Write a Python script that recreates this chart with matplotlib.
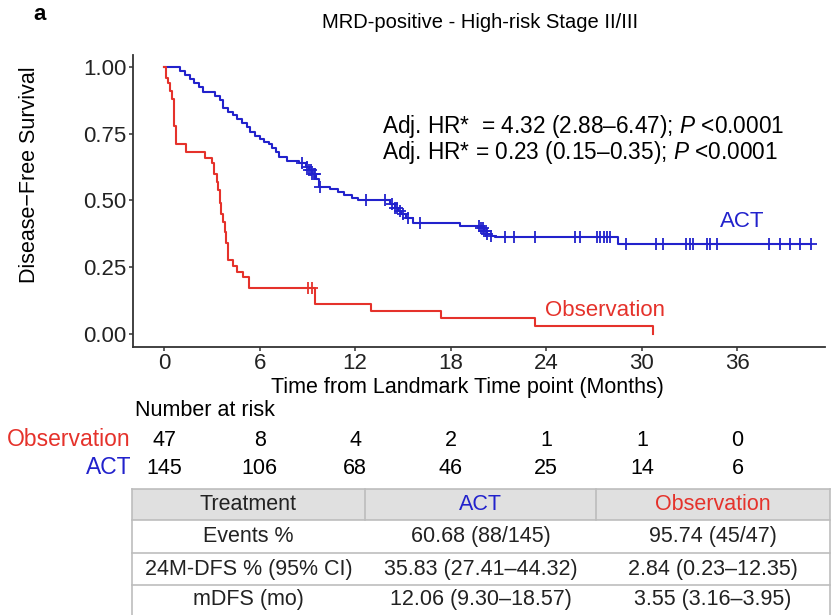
import numpy as np
import matplotlib
matplotlib.use("Agg")
import matplotlib.pyplot as plt
from matplotlib.patches import Rectangle
from matplotlib.transforms import blended_transform_factory

plt.rcParams['font.family'] = ['Liberation Sans', 'DejaVu Sans']
plt.rcParams['mathtext.fontset'] = 'custom'
plt.rcParams['mathtext.it'] = 'Liberation Sans:italic'
plt.rcParams['mathtext.rm'] = 'Liberation Sans'

# кривая ACT: моменты событий и выживаемость после шага
act_t = [0, 1.0, 1.3, 1.6, 1.9, 2.2, 2.45, 3.2, 3.5, 3.7, 4.0, 4.3, 4.6, 4.9, 5.2, 5.4, 5.7,
         6.0, 6.3, 6.6, 6.8, 7.0, 7.2, 7.7, 8.5, 8.9, 9.1, 9.3, 9.55, 9.7, 10.4, 10.9, 11.3,
         11.8, 12.2, 14.2, 14.5, 14.7, 14.9, 15.2, 15.6, 18.6, 19.9, 20.1, 20.3, 20.5, 20.8, 28.5]
act_s = [1.0, 0.985, 0.97, 0.955, 0.94, 0.925, 0.906, 0.89, 0.876, 0.846, 0.833, 0.82, 0.805,
         0.79, 0.775, 0.757, 0.743, 0.73, 0.72, 0.71, 0.695, 0.68, 0.662, 0.648, 0.64, 0.625,
         0.615, 0.60, 0.58, 0.55, 0.543, 0.532, 0.52, 0.51, 0.50, 0.485, 0.47, 0.46, 0.45,
         0.435, 0.415, 0.405, 0.395, 0.385, 0.375, 0.368, 0.363, 0.337]
act_cens = [8.65, 9.0, 9.1, 9.2, 9.3, 9.4, 9.5, 9.8, 12.7, 13.9, 14.3, 14.5, 14.6, 14.8, 15.0,
            15.3, 16.05, 19.8, 19.9, 20.0, 20.1, 20.2, 20.3, 20.5, 21.4, 22.0, 23.3, 25.8, 26.1,
            27.2, 27.4, 27.6, 27.8, 28.0, 29.0, 30.9, 31.3, 32.8, 33.0, 33.2, 34.1, 34.25, 34.75,
            38.0, 38.65, 39.3, 39.9, 40.65]

# кривая наблюдения
obs_t = [0, 0.1, 0.25, 0.4, 0.5, 0.63, 0.75, 1.4, 2.6, 3.0, 3.15, 3.3, 3.4, 3.5, 3.6, 3.7,
         3.8, 3.9, 4.0, 4.3, 4.6, 4.95, 5.33, 9.5, 13.0, 17.4, 23.3, 30.7]
obs_s = [1.0, 0.96, 0.94, 0.91, 0.88, 0.78, 0.71, 0.68, 0.66, 0.64, 0.60, 0.57, 0.54, 0.49,
         0.45, 0.42, 0.38, 0.34, 0.277, 0.255, 0.232, 0.213, 0.17, 0.113, 0.085, 0.057, 0.028, 0.0]
obs_cens = [9.05, 9.3]

risk_times = [0, 6, 12, 18, 24, 30, 36]
risk_obs = [47, 8, 4, 2, 1, 1, 0]
risk_act = [145, 106, 68, 46, 25, 14, 6]

tab_header = ["Treatment", "ACT", "Observation"]
tab_rows = [
    ["Events %", "60.68 (88/145)", "95.74 (45/47)"],
    ["24M-DFS % (95% CI)", "35.83 (27.41\u201344.32)", "2.84 (0.23\u201312.35)"],
    ["mDFS (mo)", "12.06 (9.30\u201318.57)", "3.55 (3.16\u20133.95)"],
]

BLUE = "#2222cc"
RED = "#e5322b"
FS = 15.5

W, H = 833, 615
fig = plt.figure(figsize=(W / 100, H / 100), dpi=100)
ax = fig.add_axes([133 / W, 1 - 347 / H, 692 / W, 292 / H])


def step_at(t, s, x):
    idx = np.searchsorted(t, x, side="right") - 1
    return np.asarray(s)[idx]


def km(t, s, cens, color):
    xs = list(t)
    ys = list(s)
    if cens and cens[-1] > xs[-1]:
        xs.append(cens[-1])
        ys.append(ys[-1])
    ax.step(xs, ys, where="post", color=color, lw=1.5)
    ax.plot(cens, step_at(t, s, cens), ls="none", marker="+", ms=9, mew=1.3, color=color)


km(act_t, act_s, act_cens, BLUE)
km(obs_t, obs_s, obs_cens, RED)

ax.set_xlim(-1.95, 41.5)
ax.set_ylim(-0.05, 1.045)
ax.set_xticks(risk_times)
ax.set_yticks([0, 0.25, 0.5, 0.75, 1.0])
ax.set_yticklabels(["0.00", "0.25", "0.50", "0.75", "1.00"])
for sp in ["top", "right"]:
    ax.spines[sp].set_visible(False)
for sp in ["left", "bottom"]:
    ax.spines[sp].set_color("#333333")
    ax.spines[sp].set_linewidth(1.3)
ax.tick_params(labelsize=16, colors="#333333", length=3, width=1.1, pad=1.5)
for lab in ax.get_xticklabels() + ax.get_yticklabels():
    lab.set_color("#222222")

ax.text(36.3, 0.42, "ACT", color=BLUE, fontsize=16, ha="center", va="center")
ax.text(27.7, 0.086, "Observation", color=RED, fontsize=16, ha="center", va="center")

fig.text(382 / W, 1 - 127 / H, "Adj. HR*  = 4.32 (2.88\u20136.47); $P$ <0.0001",
         fontsize=16.3, va="center", ha="left")
fig.text(382 / W, 1 - 153 / H, "Adj. HR* = 0.23 (0.15\u20130.35); $P$ <0.0001",
         fontsize=16.3, va="center", ha="left")

fig.text(480 / W, 1 - 22 / H, "MRD-positive - High-risk Stage II/III", fontsize=14.5,
         ha="center", va="center")
fig.text(40 / W, 1 - 14 / H, "a", fontsize=16, fontweight="bold", ha="center", va="center")
fig.text(30 / W, 1 - 175 / H, "Disease\u2212Free Survival", fontsize=FS, rotation=90,
         ha="center", va="center")
fig.text(467 / W, 1 - 387 / H, "Time from Landmark Time point (Months)", fontsize=FS,
         ha="center", va="center")

# таблица числа под риском
fig.text(135 / W, 1 - 411 / H, "Number at risk", fontsize=FS, ha="left", va="center")
tr = blended_transform_factory(ax.transData, fig.transFigure)
fig.text(131 / W, 1 - 440 / H, "Observation", color=RED, fontsize=16.5, ha="right", va="center")
fig.text(131 / W, 1 - 468 / H, "ACT", color=BLUE, fontsize=16.5, ha="right", va="center")
for x, a, b in zip(risk_times, risk_obs, risk_act):
    ax.text(x, 1 - 440 / H, str(a), transform=tr, fontsize=FS, ha="center", va="center",
            clip_on=False)
    ax.text(x, 1 - 468 / H, str(b), transform=tr, fontsize=FS, ha="center", va="center",
            clip_on=False)

# итоговая таблица в пиксельных координатах
tax = fig.add_axes([0, 0, 1, 1], zorder=-1)
tax.set_xlim(0, W)
tax.set_ylim(H, 0)
tax.axis("off")
x_edges = [132, 365, 596, 830]
y_edges = [489, 520, 553, 585, 618]
line_c = "#bdbdbd"
tax.add_patch(Rectangle((x_edges[0], y_edges[0]), x_edges[-1] - x_edges[0],
                        y_edges[1] - y_edges[0], facecolor="#e0e0e0", edgecolor="none"))
for y in y_edges[:-1]:
    tax.plot([x_edges[0], x_edges[-1]], [y, y], color=line_c, lw=1.2)
for x in (x_edges[0], x_edges[-1]):
    tax.plot([x, x], [y_edges[0], y_edges[-1]], color=line_c, lw=1.2)
for x in x_edges[1:-1]:
    tax.plot([x, x], [y_edges[0], y_edges[1]], color=line_c, lw=1.2)

centers_x = [(x_edges[i] + x_edges[i + 1]) / 2 for i in range(3)]
head_colors = ["#222222", BLUE, RED]
for cx, txt, c in zip(centers_x, tab_header, head_colors):
    tax.text(cx, 504, txt, color=c, fontsize=FS, ha="center", va="center")
row_y = [536.5, 569, 600]
for ry, row in zip(row_y, tab_rows):
    for cx, txt in zip(centers_x, row):
        tax.text(cx, ry, txt, color="#222222", fontsize=FS, ha="center", va="center")

fig.savefig("out.png", dpi=100)
